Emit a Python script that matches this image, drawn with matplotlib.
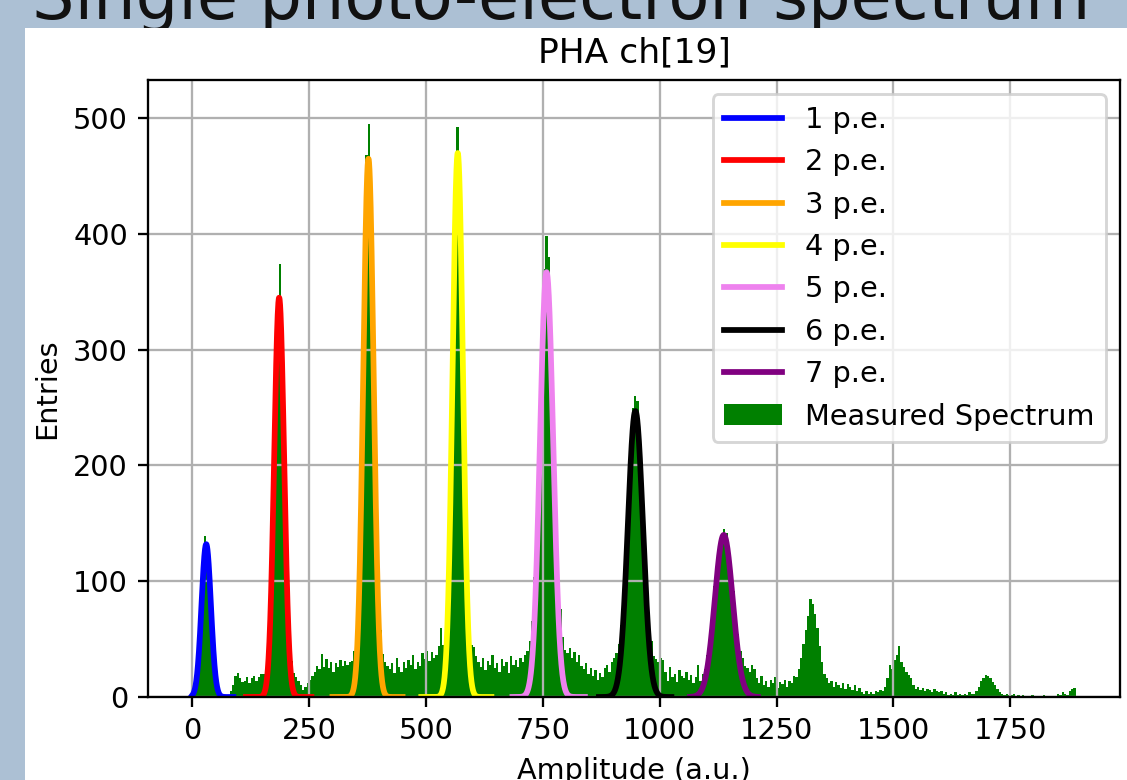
import numpy as np
import matplotlib
matplotlib.use("Agg")
import matplotlib.pyplot as plt
from matplotlib.patches import Rectangle

# histogram of the measured spectrum, 5 a.u. bins from 0 to 1890
bin_width = 5
counts = [
    3, 11, 27, 62, 98, 139, 126, 101, 57, 30,          # 0-50
    9, 3, 1, 0, 0, 2, 5, 10, 18, 21,                   # 50-100
    16, 13, 14, 17, 12, 16, 18, 14, 17, 20,            # 100-150
    20, 24, 45, 88, 168, 262, 338, 374, 296, 205,      # 150-200
    118, 60, 31, 21, 17, 14, 10, 6, 9, 12,             # 200-250
    15, 18, 22, 27, 24, 37, 26, 33, 25, 30,            # 250-300
    22, 29, 26, 32, 27, 31, 28, 30, 31, 40,            # 300-350
    66, 124, 222, 348, 468, 495, 432, 322, 200, 110,   # 350-400
    58, 37, 30, 27, 24, 29, 21, 34, 26, 22,            # 400-450
    30, 25, 32, 28, 36, 24, 30, 27, 38, 33,            # 450-500
    40, 31, 39, 34, 36, 44, 60, 45, 68, 118,           # 500-550
    205, 330, 446, 492, 462, 352, 228, 128, 70, 45,    # 550-600
    43, 35, 30, 26, 34, 23, 31, 28, 36, 25,            # 600-650
    29, 22, 33, 27, 30, 21, 35, 28, 32, 26,            # 650-700
    34, 30, 36, 40, 48, 66, 104, 160, 232, 306,        # 700-750
    370, 398, 380, 322, 250, 176, 116, 76, 52, 41,     # 750-800
    38, 42, 34, 39, 30, 36, 27, 24, 29, 20,            # 800-850
    25, 18, 23, 15, 21, 17, 25, 28, 22, 30,            # 850-900
    34, 38, 46, 62, 92, 130, 176, 218, 250, 260,       # 900-950
    256, 226, 186, 140, 100, 68, 48, 35, 33, 30,       # 950-1000
    34, 32, 22, 14, 26, 17, 20, 13, 23, 18,            # 1000-1050
    16, 22, 15, 19, 12, 17, 28, 14, 20, 24,            # 1050-1100
    36, 50, 74, 96, 112, 132, 140, 145, 142, 130,      # 1100-1150
    112, 92, 70, 54, 40, 34, 27, 25, 22, 28,           # 1150-1200
    24, 16, 12, 18, 10, 14, 9, 15, 12, 17,             # 1200-1250
    8, 13, 11, 15, 9, 14, 12, 18, 17, 24,              # 1250-1300
    34, 46, 58, 70, 85, 80, 72, 60, 44, 30,            # 1300-1350
    20, 16, 12, 14, 9, 13, 10, 8, 12, 7,               # 1350-1400
    11, 9, 6, 10, 5, 8, 4, 3, 5, 3,                    # 1400-1450
    4, 3, 5, 4, 6, 5, 9, 16, 28, 24,                   # 1450-1500
    32, 36, 44, 30, 26, 22, 19, 16, 10, 7,             # 1500-1550
    9, 6, 8, 5, 7, 6, 4, 7, 5, 4,                      # 1550-1600
    5, 3, 4, 2, 3, 2, 4, 2, 3, 2,                      # 1600-1650
    3, 2, 4, 3, 3, 5, 9, 14, 16, 19,                   # 1650-1700
    18, 16, 13, 10, 7, 4, 3, 2, 3, 2,                  # 1700-1750
    2, 3, 1, 2, 1, 2, 1, 1, 1, 2,                      # 1750-1800
    0, 1, 1, 0, 2, 0, 1, 0, 0, 1,                      # 1800-1850
    3, 2, 4, 3, 2, 5, 7, 8,                            # 1850-1890
]

# gaussian fits of the photo-electron peaks
pe_labels = ["1 p.e.", "2 p.e.", "3 p.e.", "4 p.e.", "5 p.e.", "6 p.e.", "7 p.e."]
pe_colors = ["blue", "red", "orange", "yellow", "violet", "black", "purple"]
fit_amp = [132, 345, 465, 470, 367, 247, 140]
fit_mean = [30, 186, 377, 568, 758, 948, 1137]
fit_sigma = [10, 10.5, 11, 11, 14, 16, 19]
fit_lo = [0, 115, 300, 490, 685, 870, 1065]
fit_hi = [88, 255, 450, 640, 840, 1025, 1210]

# whole picture is a slide screenshot, default mpl look scaled ~2x
scale = 2.07
fig = plt.figure(figsize=(1127 / (100 * scale), 780 / (100 * scale)), dpi=100 * scale,
                 facecolor="#acc0d4")

# slide title, partly hidden behind the white plot panel
fig.text(32 / 1127, 1 - 19 / 780, "Single photo-electron spectrum", fontsize=23.3,
         ha="left", va="baseline", color="#111111", zorder=-2)
fig.add_artist(Rectangle((25 / 1127, 0), 1, (780 - 28) / 780, transform=fig.transFigure,
                         facecolor="white", edgecolor="none", zorder=-1))

ax = fig.add_axes([148 / 1127, 83 / 780, (1120 - 148) / 1127, (697 - 80) / 780])

for amp, mu, sig, lo, hi, col, lab in zip(fit_amp, fit_mean, fit_sigma, fit_lo, fit_hi,
                                          pe_colors, pe_labels):
    x = np.linspace(lo, hi, 300)
    ax.plot(x, amp * np.exp(-0.5 * ((x - mu) / sig) ** 2), color=col, lw=2, label=lab)

edges = np.arange(len(counts) + 1) * bin_width
centers = edges[:-1] + bin_width / 2
ax.hist(centers, bins=edges, weights=counts, color="green", label="Measured Spectrum")

ax.set_ylim(0, 533)
ax.set_xticks(np.arange(0, 2000, 250))
ax.grid(True)
ax.set_title("PHA ch[19]")
ax.set_xlabel("Amplitude (a.u.)")
ax.set_ylabel("Entries")
ax.legend(loc="upper right")

fig.savefig("out.png", dpi=100 * scale)
